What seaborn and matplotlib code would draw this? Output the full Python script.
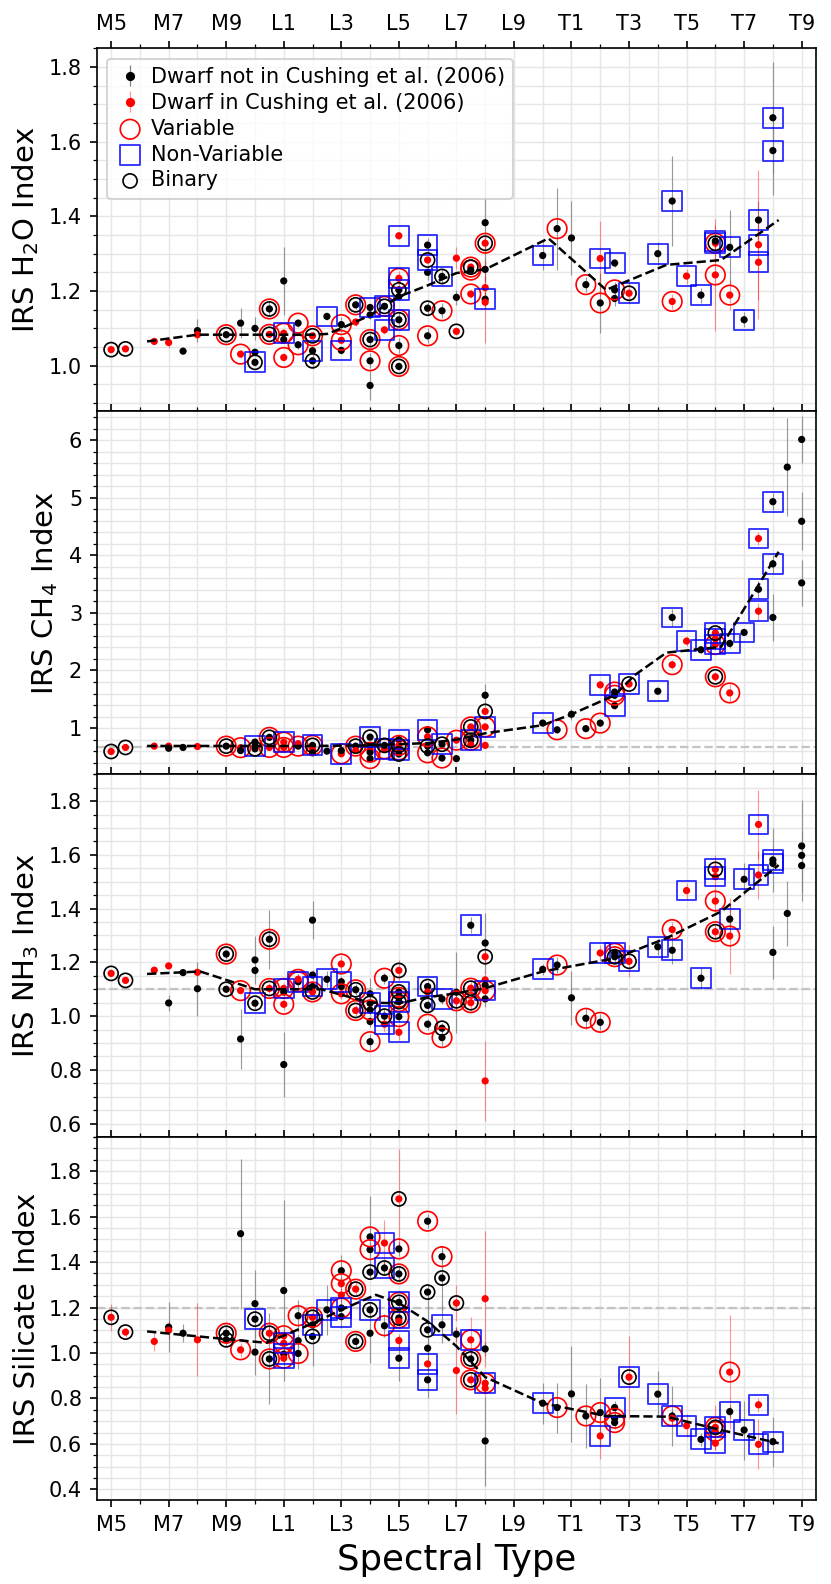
import numpy as np
import pandas as pd
import matplotlib
matplotlib.use("Agg")
import matplotlib.pyplot as plt
from matplotlib.ticker import MultipleLocator
import seaborn as sns

# spectral type as a number: M5=5 ... M9=9, L0=10 ... L9=19, T0=20 ... T9=29
tick_pos = list(range(5, 30, 2))
tick_lab = ['M5', 'M7', 'M9', 'L1', 'L3', 'L5', 'L7', 'L9', 'T1', 'T3', 'T5', 'T7', 'T9']

# rows: spectral type, index, error, flags
# flags: r = in Cushing et al. (2006), v = variable, n = non-variable, b = binary
h2o = [
    (5.0, 1.043, 0.005, 'rb'), (5.5, 1.045, 0.005, 'rb'), (6.5, 1.065, 0.006, 'r'),
    (7.0, 1.062, 0.015, 'r'), (7.5, 1.039, 0.008, ''), (8.0, 1.094, 0.03, ''),
    (8.0, 1.083, 0.01, 'r'), (9.0, 1.083, 0.01, 'vb'), (9.5, 1.114, 0.04, ''),
    (9.5, 1.031, 0.01, 'rv'), (10.0, 1.10, 0.03, ''), (10.0, 1.036, 0.01, ''),
    (10.0, 1.009, 0.01, 'nb'), (10.5, 1.152, 0.02, 'vb'), (10.5, 1.084, 0.01, 'rvb'),
    (11.0, 1.227, 0.09, ''), (11.0, 1.087, 0.01, 'rnv'), (11.0, 1.07, 0.01, ''),
    (11.0, 1.022, 0.01, 'rv'), (11.5, 1.114, 0.01, 'v'), (11.5, 1.056, 0.01, 'v'),
    (12.0, 1.08, 0.01, 'rvb'), (12.0, 1.04, 0.01, 'n'), (12.0, 1.013, 0.02, 'b'),
    (12.5, 1.132, 0.01, 'n'), (13.0, 1.11, 0.02, 'v'), (13.0, 1.068, 0.01, 'rv'),
    (13.0, 1.041, 0.01, 'n'), (13.5, 1.163, 0.01, 'vb'), (13.5, 1.117, 0.01, 'r'),
    (14.0, 1.156, 0.01, 'n'), (14.0, 1.136, 0.01, ''), (14.0, 1.07, 0.02, 'vb'),
    (14.0, 1.013, 0.02, 'v'), (14.0, 0.947, 0.04, ''), (14.5, 1.159, 0.01, 'vbn'),
    (14.5, 1.096, 0.01, 'rn'), (15.0, 1.348, 0.01, 'rn'), (15.0, 1.234, 0.02, 'rvn'),
    (15.0, 1.203, 0.01, 'bn'), (15.0, 1.185, 0.01, ''), (15.0, 1.123, 0.02, 'bnv'),
    (15.0, 1.054, 0.02, 'v'), (15.0, 0.998, 0.01, 'vb'), (16.0, 1.323, 0.02, 'n'),
    (16.0, 1.283, 0.01, 'rnb'), (16.0, 1.25, 0.02, ''), (16.0, 1.154, 0.02, 'b'),
    (16.0, 1.08, 0.02, 'v'), (16.5, 1.239, 0.02, 'bn'), (16.5, 1.147, 0.02, 'v'),
    (17.0, 1.288, 0.03, 'r'), (17.0, 1.183, 0.02, ''), (17.0, 1.092, 0.01, 'rb'),
    (17.5, 1.264, 0.01, 'rvb'), (17.5, 1.256, 0.01, 'v'), (17.5, 1.192, 0.01, 'rv'),
    (18.0, 1.383, 0.12, ''), (18.0, 1.328, 0.02, 'rvb'), (18.0, 1.258, 0.03, ''),
    (18.0, 1.209, 0.03, 'r'), (18.0, 1.178, 0.02, 'n'), (18.0, 1.17, 0.11, 'r'),
    (20.0, 1.295, 0.04, 'n'), (20.5, 1.367, 0.11, 'v'), (21.0, 1.342, 0.1, ''),
    (21.5, 1.217, 0.02, 'v'), (22.0, 1.287, 0.1, 'rn'), (22.0, 1.168, 0.08, 'v'),
    (22.5, 1.275, 0.01, 'n'), (22.5, 1.203, 0.02, 'v'), (22.5, 1.18, 0.02, ''),
    (23.0, 1.194, 0.03, 'rbn'), (24.0, 1.30, 0.03, 'n'), (24.5, 1.441, 0.12, 'n'),
    (24.5, 1.172, 0.02, 'rv'), (25.0, 1.24, 0.02, 'rn'), (25.5, 1.189, 0.02, 'n'),
    (26.0, 1.328, 0.05, 'rvbn'), (26.0, 1.334, 0.02, 'n'), (26.0, 1.243, 0.15, 'rv'),
    (26.5, 1.317, 0.1, 'n'), (26.5, 1.189, 0.04, 'rv'), (27.0, 1.123, 0.02, 'n'),
    (27.5, 1.39, 0.05, 'n'), (27.5, 1.324, 0.2, 'rn'), (27.5, 1.277, 0.1, 'rn'),
    (28.0, 1.664, 0.15, 'n'), (28.0, 1.576, 0.12, 'n'),
]

ch4 = [
    (5.0, 0.594, 0.02, 'rb'), (5.5, 0.664, 0.02, 'rb'), (6.5, 0.687, 0.02, 'r'),
    (7.0, 0.687, 0.02, 'r'), (7.0, 0.65, 0.02, ''), (7.5, 0.664, 0.02, ''),
    (8.0, 0.68, 0.02, 'r'), (9.0, 0.687, 0.03, 'vb'), (9.5, 0.66, 0.03, 'rv'),
    (9.5, 0.61, 0.03, ''), (10.0, 0.757, 0.04, ''), (10.0, 0.687, 0.03, 'n'),
    (10.0, 0.64, 0.03, 'b'), (10.5, 0.84, 0.04, 'vb'), (10.5, 0.664, 0.03, 'rv'),
    (11.0, 0.757, 0.03, 'rvn'), (11.0, 0.664, 0.03, 'rv'), (11.5, 0.687, 0.03, 'v'),
    (11.5, 0.73, 0.03, 'r'), (12.0, 0.70, 0.03, 'bnv'), (12.0, 0.63, 0.03, 'r'),
    (12.0, 0.57, 0.03, ''), (12.5, 0.60, 0.03, ''), (13.0, 0.554, 0.03, 'rvn'),
    (13.0, 0.61, 0.03, ''), (13.5, 0.687, 0.03, 'vb'), (13.5, 0.61, 0.03, 'r'),
    (14.0, 0.843, 0.04, 'bn'), (14.0, 0.687, 0.04, ''), (14.0, 0.58, 0.04, 'v'),
    (14.0, 0.47, 0.04, 'v'), (14.5, 0.64, 0.03, 'rvn'), (14.5, 0.70, 0.03, 'b'),
    (15.0, 0.80, 0.03, 'n'), (15.0, 0.70, 0.03, 'rvb'), (15.0, 0.62, 0.03, 'rvn'),
    (15.0, 0.55, 0.03, 'b'), (16.0, 0.97, 0.04, 'n'), (16.0, 0.85, 0.03, 'rv'),
    (16.0, 0.687, 0.03, 'b'), (16.0, 0.57, 0.03, 'v'), (16.5, 0.72, 0.03, 'bn'),
    (16.5, 0.48, 0.03, 'v'), (17.0, 0.79, 0.03, 'rv'), (17.0, 0.47, 0.03, ''),
    (17.5, 1.02, 0.04, 'rvb'), (17.5, 0.79, 0.03, 'bnv'), (17.5, 0.71, 0.03, 'r'),
    (18.0, 1.57, 0.2, ''), (18.0, 1.29, 0.05, 'rb'), (18.0, 1.02, 0.05, 'rvn'),
    (18.0, 0.70, 0.03, 'r'), (20.0, 1.087, 0.05, 'n'), (20.5, 0.97, 0.05, 'v'),
    (21.0, 1.24, 0.1, ''), (21.5, 0.99, 0.04, 'v'), (22.0, 1.75, 0.06, 'rn'),
    (22.0, 1.087, 0.05, 'v'), (22.5, 1.626, 0.05, 'v'), (22.5, 1.57, 0.05, 'v'),
    (22.5, 1.39, 0.05, 'n'), (23.0, 1.765, 0.05, 'rbn'), (24.0, 1.64, 0.05, 'n'),
    (24.5, 2.92, 0.15, 'n'), (24.5, 2.10, 0.08, 'rv'), (25.0, 2.51, 0.08, 'rn'),
    (25.5, 2.36, 0.05, 'n'), (26.0, 2.65, 0.1, 'rbn'), (26.0, 2.55, 0.1, 'rn'),
    (26.0, 2.45, 0.1, 'rvn'), (26.0, 1.89, 0.08, 'rvb'), (26.5, 2.47, 0.08, 'n'),
    (26.5, 1.61, 0.15, 'rv'), (27.0, 2.66, 0.05, 'n'), (27.5, 4.29, 0.12, 'rn'),
    (27.5, 3.41, 0.15, 'n'), (27.5, 3.03, 0.15, 'rn'), (28.0, 4.93, 0.15, 'n'),
    (28.0, 3.85, 0.15, 'n'), (28.0, 2.92, 0.4, ''), (28.5, 5.53, 0.85, ''),
    (29.0, 6.01, 0.4, ''), (29.0, 4.59, 0.5, ''), (29.0, 3.52, 0.4, ''),
]

nh3 = [
    (5.0, 1.159, 0.01, 'rb'), (5.5, 1.133, 0.01, 'rb'), (6.5, 1.171, 0.01, 'r'),
    (7.0, 1.187, 0.01, 'r'), (7.0, 1.049, 0.03, ''), (7.5, 1.162, 0.01, ''),
    (8.0, 1.163, 0.01, 'r'), (8.0, 1.102, 0.1, ''), (9.0, 1.231, 0.02, 'vb'),
    (9.0, 1.10, 0.01, 'b'), (9.5, 1.095, 0.01, 'rv'), (9.5, 0.915, 0.11, ''),
    (10.0, 1.209, 0.09, ''), (10.0, 1.17, 0.02, ''), (10.0, 1.048, 0.02, 'bn'),
    (10.5, 1.286, 0.11, 'vb'), (10.5, 1.103, 0.02, 'rvb'), (11.0, 1.103, 0.02, 'rvn'),
    (11.0, 1.09, 0.02, ''), (11.0, 1.044, 0.02, 'rv'), (11.0, 0.82, 0.12, ''),
    (11.5, 1.128, 0.03, 'vn'), (11.5, 1.137, 0.02, 'rv'), (12.0, 1.357, 0.07, ''),
    (12.0, 1.153, 0.02, ''), (12.0, 1.11, 0.02, 'n'), (12.0, 1.09, 0.02, 'rvb'),
    (12.5, 1.137, 0.03, 'n'), (13.0, 1.194, 0.03, 'rv'), (13.0, 1.128, 0.02, 'n'),
    (13.0, 1.11, 0.02, ''), (13.0, 1.083, 0.02, 'rv'), (13.5, 1.098, 0.02, 'vb'),
    (13.5, 1.021, 0.02, 'rbv'), (14.0, 1.083, 0.06, ''), (14.0, 1.048, 0.02, 'bn'),
    (14.0, 1.023, 0.02, 'v'), (14.0, 0.98, 0.02, ''), (14.0, 0.905, 0.03, 'v'),
    (14.5, 1.141, 0.02, 'v'), (14.5, 1.0, 0.03, 'bn'), (14.5, 0.97, 0.03, 'rn'),
    (15.0, 1.17, 0.04, 'rb'), (15.0, 1.09, 0.02, 'bn'), (15.0, 1.07, 0.02, 'rv'),
    (15.0, 1.054, 0.02, 'bvn'), (15.0, 0.998, 0.02, 'v'), (15.0, 0.94, 0.03, 'rn'),
    (16.0, 1.11, 0.02, 'bn'), (16.0, 1.09, 0.02, 'r'), (16.0, 1.04, 0.02, 'b'),
    (16.0, 0.97, 0.02, 'v'), (16.5, 1.064, 0.02, 'n'), (16.5, 0.955, 0.02, 'b'),
    (16.5, 0.92, 0.03, 'v'), (17.0, 1.089, 0.15, ''), (17.0, 1.057, 0.03, 'rvb'),
    (17.5, 1.338, 0.03, 'n'), (17.5, 1.104, 0.03, 'rvb'), (17.5, 1.05, 0.03, 'rvb'),
    (18.0, 1.272, 0.11, ''), (18.0, 1.221, 0.03, 'rb'), (18.0, 1.135, 0.03, 'r'),
    (18.0, 1.115, 0.03, ''), (18.0, 1.095, 0.03, 'rvn'), (18.0, 1.064, 0.03, ''),
    (18.0, 0.759, 0.15, 'r'), (20.0, 1.174, 0.02, 'n'), (20.5, 1.19, 0.03, 'v'),
    (21.0, 1.068, 0.1, ''), (21.5, 0.992, 0.04, 'v'), (22.0, 1.235, 0.03, 'rn'),
    (22.0, 0.977, 0.03, 'v'), (22.5, 1.234, 0.02, 'vn'), (22.5, 1.221, 0.02, 'vb'),
    (23.0, 1.204, 0.06, 'rbn'), (24.0, 1.258, 0.03, 'n'), (24.5, 1.322, 0.03, 'rv'),
    (24.5, 1.245, 0.05, 'n'), (25.0, 1.467, 0.03, 'rn'), (25.5, 1.141, 0.04, 'n'),
    (26.0, 1.546, 0.03, 'rbn'), (26.0, 1.519, 0.08, 'rn'), (26.0, 1.428, 0.04, 'rv'),
    (26.0, 1.314, 0.03, 'rvb'), (26.5, 1.361, 0.06, 'n'), (26.5, 1.298, 0.14, 'rv'),
    (27.0, 1.509, 0.06, 'n'), (27.5, 1.713, 0.13, 'rn'), (27.5, 1.525, 0.09, 'rn'),
    (28.0, 1.581, 0.12, 'n'), (28.0, 1.568, 0.02, 'n'), (28.0, 1.237, 0.1, ''),
    (28.5, 1.382, 0.12, ''), (29.0, 1.633, 0.17, ''), (29.0, 1.598, 0.05, ''),
    (29.0, 1.56, 0.13, ''),
]

sil = [
    (5.0, 1.157, 0.06, 'rb'), (5.5, 1.092, 0.02, 'rb'), (6.5, 1.051, 0.04, 'r'),
    (7.0, 1.114, 0.11, ''), (7.0, 1.10, 0.04, 'r'), (7.5, 1.087, 0.04, ''),
    (8.0, 1.058, 0.16, 'r'), (9.0, 1.087, 0.03, 'vb'), (9.0, 1.058, 0.03, 'b'),
    (9.5, 1.525, 0.33, ''), (9.5, 1.014, 0.03, 'rv'), (10.0, 1.217, 0.15, ''),
    (10.0, 1.149, 0.03, 'bn'), (10.0, 1.004, 0.1, ''), (10.5, 1.087, 0.03, 'rvb'),
    (10.5, 0.974, 0.2, 'vb'), (11.0, 1.275, 0.4, ''), (11.0, 1.076, 0.03, 'rv'),
    (11.0, 1.043, 0.03, 'rvn'), (11.0, 0.995, 0.03, 'n'), (11.0, 0.977, 0.03, 'rvn'),
    (11.5, 1.164, 0.07, 'v'), (11.5, 1.054, 0.03, ''), (11.5, 0.998, 0.07, 'v'),
    (12.0, 1.157, 0.03, 'rvb'), (12.0, 1.124, 0.03, 'n'), (12.0, 1.073, 0.13, 'b'),
    (12.5, 1.19, 0.11, 'n'), (13.0, 1.362, 0.07, 'v'), (13.0, 1.305, 0.03, 'rv'),
    (13.0, 1.255, 0.03, 'r'), (13.0, 1.198, 0.05, 'vn'), (13.0, 1.16, 0.05, 'n'),
    (13.5, 1.281, 0.03, 'rbv'), (13.5, 1.051, 0.03, 'bv'), (14.0, 1.511, 0.18, 'v'),
    (14.0, 1.455, 0.03, 'v'), (14.0, 1.356, 0.03, 'b'), (14.0, 1.19, 0.03, 'bn'),
    (14.0, 1.087, 0.13, ''), (14.5, 1.484, 0.1, 'rn'), (14.5, 1.374, 0.03, 'bn'),
    (14.5, 1.12, 0.05, 'v'), (15.0, 1.678, 0.22, 'rb'), (15.0, 1.458, 0.03, 'v'),
    (15.0, 1.348, 0.03, 'bv'), (15.0, 1.223, 0.03, 'bvn'), (15.0, 1.154, 0.03, 'bvn'),
    (15.0, 1.14, 0.03, 'r'), (15.0, 1.055, 0.03, 'rn'), (15.0, 0.977, 0.1, 'n'),
    (16.0, 1.58, 0.03, 'v'), (16.0, 1.268, 0.03, 'b'), (16.0, 1.102, 0.15, 'b'),
    (16.0, 1.021, 0.03, ''), (16.0, 0.952, 0.03, 'rn'), (16.0, 0.882, 0.08, 'n'),
    (16.5, 1.424, 0.03, 'v'), (16.5, 1.33, 0.14, 'b'), (16.5, 1.124, 0.08, 'n'),
    (17.0, 1.22, 0.08, 'rb'), (17.0, 1.083, 0.03, ''), (17.0, 0.923, 0.19, 'r'),
    (17.5, 1.058, 0.1, 'rvn'), (17.5, 0.974, 0.03, 'bv'), (17.5, 0.882, 0.03, 'rvb'),
    (18.0, 1.239, 0.3, 'r'), (18.0, 1.018, 0.03, ''), (18.0, 0.867, 0.03, 'rvn'),
    (18.0, 0.845, 0.03, 'r'), (18.0, 0.613, 0.2, ''), (20.0, 0.779, 0.09, 'n'),
    (20.5, 0.76, 0.11, 'v'), (21.0, 0.82, 0.21, ''), (21.5, 0.723, 0.14, 'v'),
    (22.0, 0.738, 0.15, 'v'), (22.0, 0.635, 0.1, 'rn'), (22.5, 0.76, 0.03, 'n'),
    (22.5, 0.713, 0.03, 'v'), (22.5, 0.694, 0.03, 'v'), (23.0, 0.894, 0.18, 'rbn'),
    (24.0, 0.819, 0.1, 'n'), (24.5, 0.723, 0.13, 'vn'), (24.5, 0.713, 0.03, 'r'),
    (25.0, 0.68, 0.05, 'rn'), (25.5, 0.62, 0.03, 'n'), (26.0, 0.673, 0.1, 'rbvn'),
    (26.0, 0.655, 0.03, 'rv'), (26.0, 0.603, 0.03, 'rn'), (26.5, 0.916, 0.25, 'rv'),
    (26.5, 0.742, 0.03, 'n'), (27.0, 0.661, 0.13, 'n'), (27.5, 0.772, 0.03, 'rn'),
    (27.5, 0.598, 0.11, 'rn'), (28.0, 0.61, 0.11, 'n'),
]

# median trend lines
h2o_tx = [6.25, 8, 10, 12, 12.5, 13, 14, 15, 16, 17, 18, 20.2, 22.2, 24.3, 26.2, 28.2]
h2o_ty = [1.065, 1.083, 1.083, 1.083, 1.085, 1.10, 1.135, 1.185, 1.215, 1.248, 1.258, 1.341, 1.203, 1.27, 1.283, 1.39]
ch4_tx = [6.25, 8, 10, 12, 14, 16, 17, 18, 20, 21, 22.5, 23.2, 24.3, 26.2, 28.2]
ch4_ty = [0.69, 0.69, 0.69, 0.69, 0.70, 0.74, 0.80, 0.91, 1.05, 1.24, 1.57, 1.92, 2.31, 2.41, 4.06]
nh3_tx = [6.25, 8.1, 10, 12.3, 14, 15, 16, 17, 18, 20, 22.5, 24.3, 26.2, 28.2]
nh3_ty = [1.157, 1.166, 1.10, 1.10, 1.05, 1.048, 1.07, 1.085, 1.104, 1.166, 1.215, 1.29, 1.389, 1.562]
sil_tx = [6.25, 9, 10.4, 12, 13, 14.2, 15, 16, 17, 18, 20, 22.2, 24.3, 26.2, 28.2]
sil_ty = [1.095, 1.061, 1.045, 1.13, 1.19, 1.256, 1.22, 1.139, 1.03, 0.894, 0.779, 0.723, 0.72, 0.661, 0.603]

panels = [
    (h2o, h2o_tx, h2o_ty, None, (0.878, 1.85), 0.2, 0.05, 'IRS H$_2$O Index'),
    (ch4, ch4_tx, ch4_ty, 0.68, (0.2, 6.5), 1.0, 0.2, 'IRS CH$_4$ Index'),
    (nh3, nh3_tx, nh3_ty, 1.1, (0.55, 1.9), 0.2, 0.05, 'IRS NH$_3$ Index'),
    (sil, sil_tx, sil_ty, 1.2, (0.353, 1.95), 0.2, 0.05, 'IRS Silicate Index'),
]

plt.rcParams['font.family'] = ['DejaVu Sans']
fig, axes = plt.subplots(4, 1, figsize=(5.54, 10.56), dpi=150, sharex=True)
fig.subplots_adjust(left=0.1164, right=0.982, top=0.9695, bottom=0.053, hspace=0)

for i, (rows, tx, ty, ref, ylim, major, minor, ylab) in enumerate(panels):
    ax = axes[i]
    df = pd.DataFrame(rows, columns=['spt', 'val', 'err', 'flags'])
    df['cush'] = df['flags'].str.contains('r')
    blk = df[~df['cush']]
    red = df[df['cush']]

    if ref is not None:
        ax.axhline(ref, color='#c4c4c4', lw=1.1, ls='--', zorder=1)

    ax.errorbar(blk['spt'], blk['val'], yerr=blk['err'], fmt='none',
                ecolor='0.5', elinewidth=0.55, alpha=0.8, zorder=2)
    ax.errorbar(red['spt'], red['val'], yerr=red['err'], fmt='none',
                ecolor='red', elinewidth=0.55, alpha=0.4, zorder=2)
    sns.scatterplot(data=df, x='spt', y='val', hue='cush',
                    palette={False: 'black', True: 'red'}, s=12, linewidth=0,
                    legend=False, ax=ax, zorder=3)
    sns.lineplot(x=tx, y=ty, color='black', lw=1.2, ls='--', ax=ax, zorder=5)

    v = df[df['flags'].str.contains('v')]
    n = df[df['flags'].str.contains('n')]
    b = df[df['flags'].str.contains('b')]
    ax.scatter(v['spt'], v['val'], s=88, facecolors='none', edgecolors='red',
               linewidths=0.8, zorder=4)
    ax.scatter(n['spt'], n['val'], s=90, marker='s', facecolors='none',
               edgecolors='blue', alpha=0.8, linewidths=0.9, zorder=4)
    ax.scatter(b['spt'], b['val'], s=46, facecolors='none', edgecolors='black',
               linewidths=0.8, zorder=4)

    ax.set_xlim(4.5, 29.5)
    ax.set_ylim(*ylim)
    ax.set_xticks(tick_pos)
    ax.set_xticklabels(tick_lab)
    ax.xaxis.set_minor_locator(MultipleLocator(1))
    ax.yaxis.set_major_locator(MultipleLocator(major))
    ax.yaxis.set_minor_locator(MultipleLocator(minor))
    ax.grid(True, which='both', color='#e6e6e6', lw=0.7)
    ax.set_axisbelow(True)
    ax.tick_params(axis='x', which='both', top=True, bottom=True,
                   labeltop=(i == 0), labelbottom=(i == 3), labelsize=10)
    ax.tick_params(axis='y', labelsize=10)
    ax.set_ylabel(ylab, fontsize=14)
    ax.set_xlabel('')

axes[3].set_xlabel('Spectral Type', fontsize=17)

# legend
ax = axes[0]
h1 = ax.errorbar([np.nan], [np.nan], yerr=[0.1], fmt='o', color='black', ms=3.4,
                 ecolor='0.5', elinewidth=0.6, label='Dwarf not in Cushing et al. (2006)')
h2 = ax.errorbar([np.nan], [np.nan], yerr=[0.1], fmt='o', color='red', ms=3.4,
                 ecolor=(1, 0.6, 0.6), elinewidth=0.6, label='Dwarf in Cushing et al. (2006)')
h3 = ax.scatter([], [], s=88, facecolors='none', edgecolors='red', linewidths=0.8, label='Variable')
h4 = ax.scatter([], [], s=90, marker='s', facecolors='none', edgecolors='blue', alpha=0.8,
                linewidths=0.9, label='Non-Variable')
h5 = ax.scatter([], [], s=46, facecolors='none', edgecolors='black', linewidths=0.8, label='Binary')
ax.legend(handles=[h1, h2, h3, h4, h5], loc='upper left', fontsize=10,
          labelspacing=0.28, handlelength=1.4, handletextpad=0.3, borderpad=0.4,
          framealpha=0.8)

fig.savefig('out.png', dpi=150)
